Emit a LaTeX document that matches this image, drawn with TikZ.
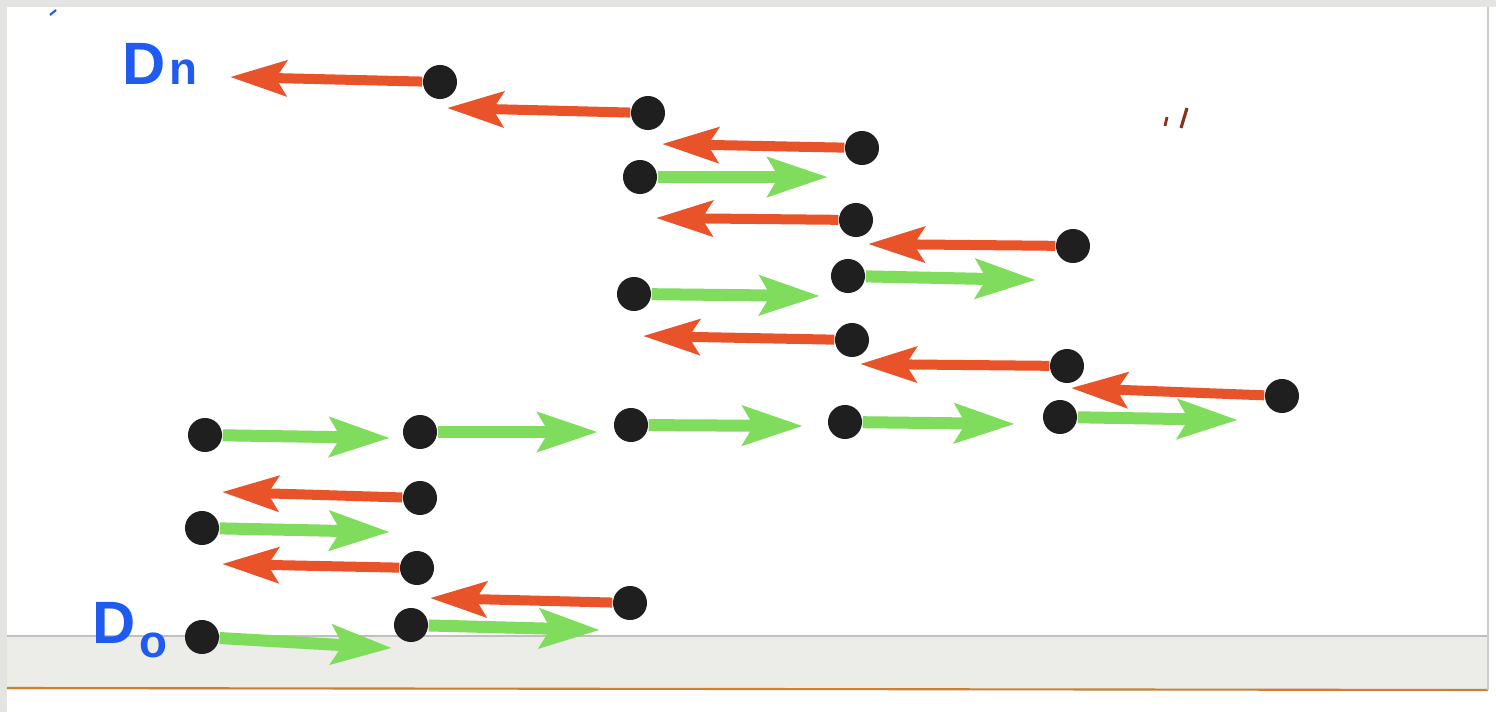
\documentclass[tikz,border=0pt]{standalone}
\usepackage{fontspec}
\setmainfont{Liberation Sans}
\usetikzlibrary{arrows.meta}
\definecolor{penred}{HTML}{E8532A}
\definecolor{pengreen}{HTML}{80DC5C}
\definecolor{penblue}{HTML}{1F5BF0}
\definecolor{stripgray}{HTML}{ECECE8}
\definecolor{pagegray}{HTML}{E4E4E2}
\tikzset{
  dotnode/.style={circle, fill=black!88, inner sep=0pt, minimum size=0.34cm},
  redarrow/.style={draw=penred, line width=0.10cm, -{Stealth[length=16pt, width=10pt, inset=3pt]}},
  greenarrow/.style={draw=pengreen, line width=0.12cm, -{Stealth[length=17pt, width=11pt, inset=3pt]}},
  lbl/.style={text=penblue, font=\fontsize{17}{17}\selectfont\bfseries, inner sep=0pt}
}
\begin{document}
\begin{tikzpicture}[x=0.01cm, y=-0.01cm]
\useasboundingbox (0,0) rectangle (1496,712);
% page
\fill[white] (0,0) rectangle (1496,712);
\fill[pagegray] (0,0) rectangle (1496,7);
\fill[pagegray] (0,0) rectangle (7,712);
\fill[stripgray] (7,636) rectangle (1488,690);
\draw[black!25, line width=0.6pt] (7,636) -- (1488,636);
\draw[orange!60!gray, line width=0.6pt] (7,688) -- (1488,690);
\draw[black!20, line width=0.5pt] (1488,7) -- (1488,690);
% small marks
\draw[penblue, line width=0.6pt] (50,15) -- (56,10);
\draw[penred!60!black, line width=0.8pt] (1165,126) -- (1167,117);
\draw[penred!60!black, line width=0.9pt] (1181,128) -- (1187,108);

% labels
\node[lbl] (dn) at (160,64) {D\kern1pt{\fontsize{13}{13}\selectfont n}};
\node[lbl] (d0) at (130,630) {D\kern1pt\raisebox{-4pt}{\fontsize{13}{13}\selectfont o}};

% red arrows: dot at right, arrow pointing left
\foreach \n/\dx/\dy/\tx/\ty in {1/440/82/230/77, 2/648/113/447/108, 3/862/148/662/144,
  4/856/220/656/218, 5/1073/246/868/244, 6/852/340/643/336, 7/1067/366/860/364,
  8/1282/396/1071/388, 9/420/498/222/492, 10/417/568/222/564, 11/630/603/430/598}{
  \coordinate (rt\n) at (\tx,\ty);
  \node[dotnode] (r\n) at (\dx,\dy) {};
  \draw[redarrow] (r\n) -- (rt\n);
}
% green arrows: dot at left, arrow pointing right
\foreach \n/\dx/\dy/\tx/\ty in {1/640/177/828/177, 2/848/276/1036/280, 3/634/294/820/296,
  4/205/435/390/438, 5/420/432/598/432, 6/631/425/803/426, 7/845/422/1015/424,
  8/1060/417/1238/420, 9/202/528/390/532, 10/202/637/392/648, 11/411/625/600/630}{
  \coordinate (gt\n) at (\tx,\ty);
  \node[dotnode] (g\n) at (\dx,\dy) {};
  \draw[greenarrow] (g\n) -- (gt\n);
}
\end{tikzpicture}
\end{document}
